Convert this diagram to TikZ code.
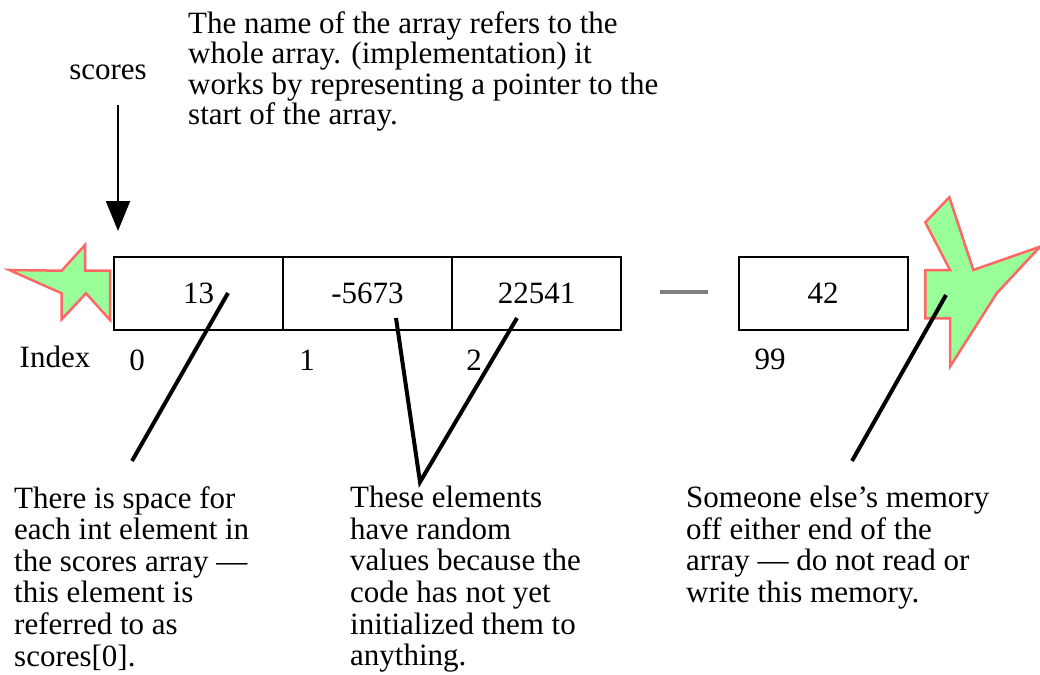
\documentclass[tikz,border=0pt]{standalone}
\usepackage{fontspec}
\setmainfont{Liberation Serif}
\usetikzlibrary{arrows.meta}
\usetikzlibrary{positioning}
\definecolor{splatgreen}{RGB}{153,255,153}
\definecolor{splatred}{RGB}{255,102,102}
\tikzset{
	cell/.style={
		draw,
		line width=2pt,
		minimum width=169pt,
		minimum height=73pt,
		inner sep=0,
		outer sep=0,
	},
	note/.style={
		align=left,
		anchor=north west,
		inner sep=0,
		font=\fontsize{31}{31.6}\selectfont,
	},
	pointer/.style={
		line width=4pt,
	},
	splat/.style={
		fill=splatgreen,
		draw=splatred,
		line width=2.5pt,
	}
}

\begin{document}
\begin{tikzpicture}[x=1pt,y=-1pt,font=\fontsize{31}{32}\selectfont]
	\useasboundingbox (0,0) rectangle (1040,674);
	
	% off either end
	\draw[splat] (9.3,270) -- (61.7,270.7) -- (85,245) -- (85,270.7) -- (110,270.7) -- (110,320) -- (86,293.3) -- (61.7,319.3) -- (61.7,293.3) -- cycle;
	\draw[splat] (949.3,197.3) -- (925.3,222.3) -- (950,270) -- (925.3,270) -- (925.3,318.3) -- (950,318.3) -- (950,366.7) -- (996.7,293.3) -- (1040,246.7) -- (973.3,270) -- cycle;
	
	\node[cell] (c0) at (198.5,293) {13};
	\node[cell, right=0pt of c0] (c1) {-5673};
	\node[cell, right=0pt of c1] (c2) {22541};
	\node[cell] (c99) at (823,293) {42};
	\draw[gray, line width=4.5pt] (660,292) -- (708,292);
	
	\node (name) at (108,72) {scores};
	\coordinate (top) at (118,105);
	\coordinate (tip) at (118,231);
	\draw[line width=2pt, -{Triangle[length=30pt,width=24pt]}] (top) -- (tip);
	\node[note, font=\fontsize{31}{30.5}\selectfont] (about) at (188,11) {The name of the array refers to the\\whole array. (implementation) it\\works by representing a pointer to the\\start of the array.};
	
	\node (idx) at (55,357) {Index};
	\node (i0) at (137,360) {0};
	\node (i1) at (307,360) {1};
	\node (i2) at (474,360) {2};
	\node (i99) at (770,359) {99};
	
	\node[note] (space) at (14,486) {There is space for\\each int element in\\the scores array —\\this element is\\referred to as\\scores[0].};
	\node[note] (random) at (350,486) {These elements\\have random\\values because the\\code has not yet\\initialized them to\\anything.};
	\node[note] (else) at (686,486) {Someone else’s memory\\off either end of  the\\array — do not read or\\write this memory.};
	
	\coordinate (p0) at (228,293);
	\coordinate (p1) at (396,318);
	\coordinate (p2) at (517,318);
	\coordinate (p99) at (946,295);
	\coordinate (q0) at (132,461);
	\coordinate (q1) at (420,482);
	\coordinate (q99) at (852,461);
	\draw[pointer] (p0) -- (q0);
	\draw[pointer] (p1) -- (q1) -- (p2);
	\draw[pointer] (p99) -- (q99);
	
\end{tikzpicture}
\end{document}
